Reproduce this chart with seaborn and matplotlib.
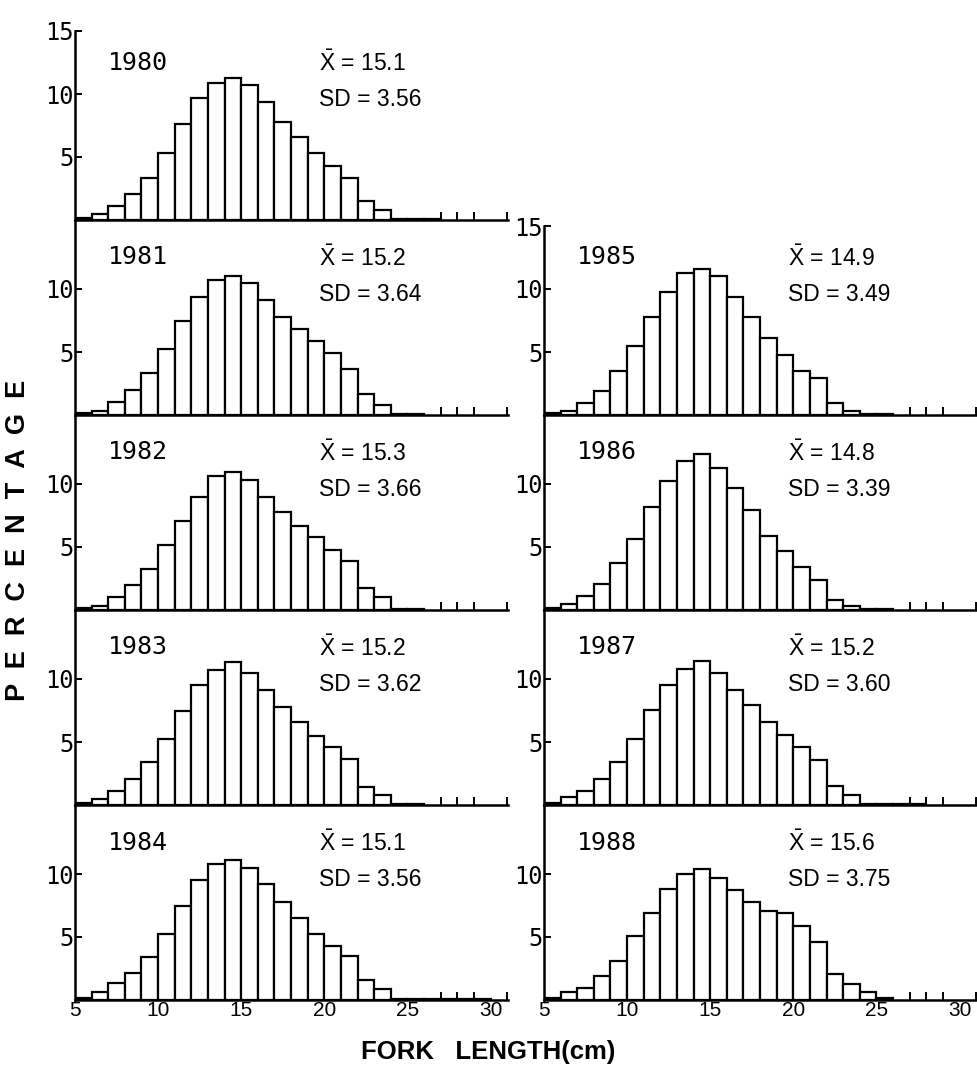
import numpy as np
import pandas as pd
import matplotlib
matplotlib.use("Agg")
import matplotlib.pyplot as plt
import seaborn as sns

# ---------------- data (percent per 1-cm fork-length class, starting at 5 cm) ----------------
bin_start = 5
pct_1980 = [0.12, 0.5, 1.1, 2.1, 3.3, 5.3, 7.6, 9.7, 10.9, 11.3, 10.7, 9.4, 7.8, 6.6, 5.3, 4.3, 3.3, 1.5, 0.8, 0.1, 0.1, 0.1]
pct_1981 = [0.12, 0.3, 1.0, 1.95, 3.3, 5.2, 7.5, 9.4, 10.7, 11.0, 10.5, 9.1, 7.8, 6.85, 5.9, 4.9, 3.65, 1.7, 0.8, 0.1, 0.1]
pct_1982 = [0.12, 0.35, 1.05, 1.95, 3.25, 5.15, 7.05, 9.0, 10.6, 10.95, 10.3, 9.0, 7.8, 6.7, 5.8, 4.8, 3.9, 1.75, 1.0, 0.1, 0.1]
pct_1983 = [0.15, 0.5, 1.08, 2.08, 3.38, 5.27, 7.5, 9.5, 10.7, 11.35, 10.46, 9.1, 7.8, 6.6, 5.5, 4.6, 3.65, 1.45, 0.8, 0.1, 0.1]
pct_1984 = [0.12, 0.64, 1.33, 2.18, 3.41, 5.26, 7.44, 9.54, 10.8, 11.08, 10.5, 9.23, 7.74, 6.5, 5.26, 4.3, 3.46, 1.6, 0.9, 0.1, 0.1, 0.1, 0.1, 0.1, 0.1]
pct_1985 = [0.15, 0.35, 0.95, 1.9, 3.5, 5.5, 7.8, 9.8, 11.3, 11.6, 11.0, 9.4, 7.8, 6.1, 4.8, 3.5, 2.9, 0.95, 0.3, 0.1, 0.1]
pct_1986 = [0.15, 0.5, 1.15, 2.1, 3.75, 5.65, 8.2, 10.2, 11.8, 12.4, 11.3, 9.7, 7.9, 5.9, 4.65, 3.4, 2.4, 0.8, 0.35, 0.1, 0.1]
pct_1987 = [0.15, 0.6, 1.15, 2.05, 3.4, 5.25, 7.55, 9.5, 10.8, 11.4, 10.45, 9.1, 7.9, 6.55, 5.55, 4.6, 3.6, 1.5, 0.8, 0.1, 0.1, 0.1, 0.1]
pct_1988 = [0.15, 0.66, 0.97, 1.9, 3.1, 5.08, 6.9, 8.8, 10.0, 10.4, 9.66, 8.76, 7.8, 7.1, 6.9, 5.9, 4.6, 2.1, 1.3, 0.6, 0.15]

years = [1980, 1981, 1982, 1983, 1984, 1985, 1986, 1987, 1988]
series = [pct_1980, pct_1981, pct_1982, pct_1983, pct_1984, pct_1985, pct_1986, pct_1987, pct_1988]
means = ["15.1", "15.2", "15.3", "15.2", "15.1", "14.9", "14.8", "15.2", "15.6"]
sds = ["3.56", "3.64", "3.66", "3.62", "3.56", "3.49", "3.39", "3.60", "3.75"]
# grid position (row, column) of each year
rows = [0, 1, 2, 3, 4, 1, 2, 3, 4]
cols = [0, 0, 0, 0, 0, 1, 1, 1, 1]
x_ticks = [5, 10, 15, 20, 25, 30]

# ---------------- style ----------------
sns.set_theme(style="white")
plt.rcParams["font.family"] = ["Liberation Sans", "DejaVu Sans"]
plt.rcParams["mathtext.fontset"] = "custom"
plt.rcParams["mathtext.rm"] = "Liberation Sans"
plt.rcParams["mathtext.it"] = "Liberation Sans:italic"
plt.rcParams["mathtext.bf"] = "Liberation Sans:bold"

W, H = 977, 1090
fig = plt.figure(figsize=(W / 100, H / 100), dpi=100)

baselines = [220, 415, 610, 805, 1000]  # pixel rows of each x-axis
px_unit_y = 12.6
col_left = [75, 544]
xmax = 31.05
ax_w = 433

for yr, vals, r, c, m, s in zip(years, series, rows, cols, means, sds):
    base = baselines[r]
    h = 189 if r == 0 else 195
    top_panel = (r == 0 and c == 0) or (r == 1 and c == 1)
    ax = fig.add_axes([col_left[c] / W, 1 - base / H, ax_w / W, h / H])
    n = len(vals)
    df = pd.DataFrame({"fl": np.arange(bin_start, bin_start + n) + 0.5,
                       "pct": vals})
    sns.histplot(data=df, x="fl", weights="pct", binwidth=1,
                 binrange=(bin_start, bin_start + n), ax=ax,
                 color="white", edgecolor="black", linewidth=1.6, alpha=1)
    ax.set_xlim(bin_start, xmax)
    ax.set_ylim(0, h / px_unit_y)
    ax.set_xlabel("")
    ax.set_ylabel("")
    for sp in ["top", "right"]:
        ax.spines[sp].set_visible(False)
    for sp in ["left", "bottom"]:
        ax.spines[sp].set_linewidth(1.8)
        ax.spines[sp].set_color("black")
    if r == 1 and c == 1:
        ax.spines["left"].set_bounds(0, 15)
    yt = [5, 10, 15] if top_panel else [5, 10]
    ax.set_yticks(yt)
    ax.set_yticklabels([str(v) for v in yt])
    ax.tick_params(axis="y", left=True, direction="in", length=5, width=1.4, pad=1,
                   labelsize=17, labelfontfamily="DejaVu Sans Mono", colors="black")
    ax.set_xticks(x_ticks)
    ax.set_xticks(list(range(27, 32)), minor=True)
    ax.tick_params(axis="x", which="major", bottom=True, length=0, pad=1, labelsize=15,
                   labelbottom=(r == 4), colors="black")
    ax.tick_params(axis="x", which="minor", bottom=True, direction="in", length=6,
                   width=1.4, colors="black")
    ax.patch.set_alpha(0)
    ax.text(7.0, 12.5, str(yr), fontsize=18, family="DejaVu Sans Mono",
            ha="left", va="center", color="black")
    ax.text(19.7, 12.4, r"$\bar{\mathrm{X}}$ = " + m, fontsize=16.5,
            ha="left", va="center", color="black")
    ax.text(19.7, 9.6, "SD = " + s, fontsize=16.5,
            ha="left", va="center", color="black")

fig.text(0.018, 0.504, "P  E  R  C  E  N  T  A  G  E", rotation=90,
         ha="center", va="center", fontsize=19.5, color="black", weight="bold")
fig.text(0.5, 0.035, "FORK   LENGTH(cm)", ha="center", va="center",
         fontsize=18.5, color="black", weight="bold")

fig.savefig("out.png", dpi=100)
